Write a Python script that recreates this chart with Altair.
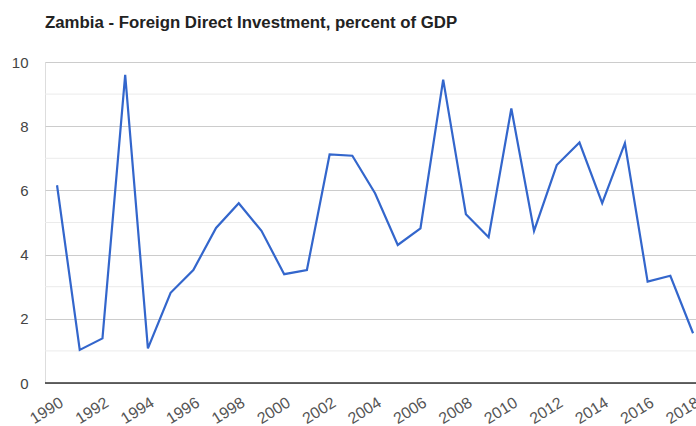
import altair as alt
import pandas as pd

years = list(range(1990, 2019))
fdi = [6.16, 1.03, 1.39, 9.6, 1.08, 2.81, 3.52, 4.83, 5.6, 4.74,
       3.39, 3.52, 7.12, 7.08, 5.91, 4.30, 4.82, 9.45, 5.26, 4.54,
       8.55, 4.74, 6.79, 7.49, 5.6, 7.47, 3.16, 3.34, 1.55]
x_ticks = list(range(1990, 2019, 2))
y_ticks = [0, 2, 4, 6, 8, 10]
minor_y = [1, 3, 5, 7, 9]

df = pd.DataFrame({"year": years, "fdi": fdi})
minor_df = pd.DataFrame({"v": minor_y})

FONT = "Liberation Sans"
xscale = alt.Scale(domain=[1989.47, 2018.13], nice=False, zero=False)
yscale = alt.Scale(domain=[0, 10], nice=False)

minor = alt.Chart(minor_df).mark_rule(color="#ebebeb", strokeWidth=1).encode(
    y=alt.Y("v:Q", scale=yscale)
)

line = alt.Chart(df).mark_line(color="#3366cc", strokeWidth=2.2).encode(
    x=alt.X("year:Q", scale=xscale, title=None,
            axis=alt.Axis(values=x_ticks, format="d", labelAngle=-32,
                          labelAlign="right", labelBaseline="top",
                          labelFont=FONT, labelFontSize=16, labelColor="#555",
                          ticks=False, domain=False, grid=False,
                          labelPadding=11, labelOverlap=False, labelFlush=False)),
    y=alt.Y("fdi:Q", scale=yscale, title=None,
            axis=alt.Axis(values=y_ticks, labelFont=FONT, labelFontSize=15,
                          labelColor="#444", ticks=False, domain=False,
                          gridColor="#cccccc", gridWidth=1, labelPadding=17)),
)

base = alt.Chart(pd.DataFrame({"z": [0]})).mark_rule(color="#333", strokeWidth=1.5).encode(
    y=alt.Y("z:Q", scale=yscale)
)

chart = alt.layer(minor, line, base).properties(
    width=651, height=321,
    title=alt.Title("Zambia - Foreign Direct Investment, percent of GDP",
                    anchor="start", frame="group", font=FONT, fontSize=16.8,
                    fontWeight="bold", color="#222", offset=23),
    autosize=alt.AutoSizeParams(type="none"),
    padding={"left": 45, "top": 62, "right": 0, "bottom": 43},
).configure_view(stroke=None).configure(background="white")

chart.save("out.html", embed_options={"renderer": "svg", "actions": False})
